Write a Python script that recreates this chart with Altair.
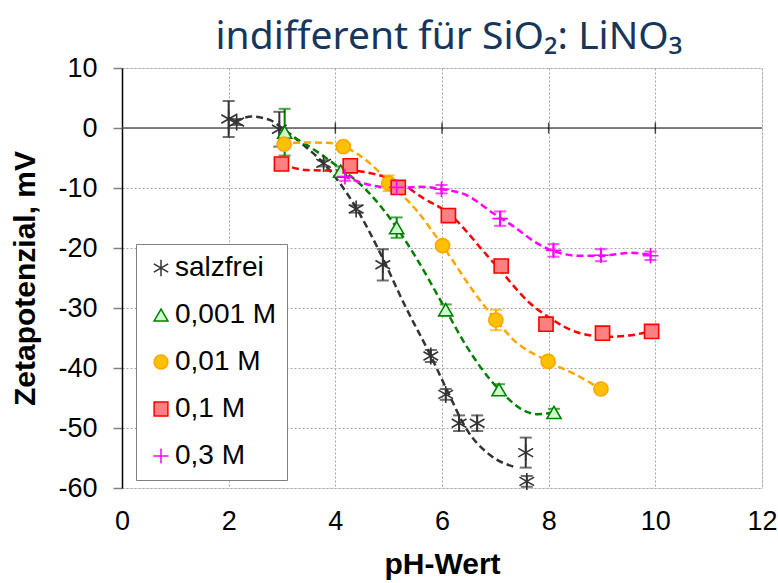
import altair as alt
import pandas as pd

# ---------------- data ----------------
series = ["salzfrei", "0,001 M", "0,01 M", "0,1 M", "0,3 M"]

# measured points: pH, zeta potential (mV), error (mV)
s0_x = [2.0, 2.15, 2.95, 3.78, 4.39, 4.89, 5.79, 6.07, 6.32, 6.66, 7.57, 7.59]
s0_y = [1.5, 1.0, -0.2, -5.9, -13.5, -22.8, -38.0, -44.4, -49.2, -49.2, -54.1, -58.9]
s0_e = [3.0, 0.5, 2.9, 0.5, 0.6, 2.6, 1.0, 0.9, 1.3, 1.3, 2.5, 0.9]

s1_x = [3.05, 4.10, 5.15, 6.07, 7.07, 8.10]
s1_y = [-0.7, -7.2, -16.6, -30.3, -43.6, -47.4]
s1_e = [3.9, 0.8, 1.7, 0.9, 0.9, 0.6]

s2_x = [3.04, 4.15, 5.0, 6.01, 7.01, 7.99, 8.98]
s2_y = [-2.7, -3.1, -9.2, -19.6, -32.0, -38.9, -43.5]
s2_e = [0.6, 0.4, 1.3, 0.6, 1.7, 0.5, 0.5]

s3_x = [2.99, 4.28, 5.18, 6.12, 7.11, 7.95, 9.01, 9.93]
s3_y = [-6.0, -6.3, -9.9, -14.6, -23.0, -32.7, -34.2, -33.9]
s3_e = [0.4, 0.4, 0.4, 0.4, 0.4, 0.4, 0.4, 0.4]

s4_x = [4.18, 5.15, 5.99, 7.09, 8.09, 8.98, 9.91]
s4_y = [-8.1, -9.9, -10.2, -15.1, -20.4, -21.2, -21.3]
s4_e = [0.7, 0.8, 0.7, 1.2, 1.05, 1.0, 0.7]

# dashed trend curves
c0_x = [2.12, 2.43, 2.78, 3.0, 3.4, 3.78, 4.39, 4.85, 5.3, 5.79, 6.1, 6.46, 6.9, 7.4]
c0_y = [1.05, 1.9, 1.3, 0.0, -2.8, -5.9, -13.3, -21.0, -29.5, -38.0, -43.8, -50.2, -54.5, -56.6]

c1_x = [3.05, 3.65, 4.1, 4.52, 5.15, 5.52, 6.07, 6.46, 7.07, 7.59, 7.8, 8.1]
c1_y = [-0.7, -3.9, -6.8, -9.8, -16.6, -21.7, -30.3, -36.4, -43.6, -47.3, -47.7, -47.4]

c2_x = [3.0, 3.5, 3.9, 4.15, 4.65, 5.0, 5.52, 6.01, 6.71, 7.01, 7.34, 7.99, 8.59, 8.98]
c2_y = [-2.6, -2.4, -2.5, -3.1, -5.9, -9.0, -13.7, -19.6, -28.7, -32.0, -35.3, -38.9, -41.5, -43.5]

c3_x = [2.99, 3.46, 3.9, 4.3, 4.7, 5.18, 5.65, 6.12, 6.84, 7.09, 7.65, 7.96, 8.59, 9.09, 9.5, 9.96]
c3_y = [-6.0, -7.0, -7.1, -7.1, -7.6, -9.0, -11.7, -14.2, -21.2, -23.7, -29.2, -31.3, -34.2, -34.8, -34.6, -33.7]

c4_x = [4.15, 4.65, 5.15, 5.59, 6.0, 6.46, 6.96, 7.34, 7.78, 8.09, 8.59, 9.0, 9.53, 9.96]
c4_y = [-8.0, -9.5, -10.0, -9.8, -10.2, -11.2, -14.2, -16.4, -19.2, -20.5, -21.3, -21.3, -20.8, -21.2]

x_ticks = [0, 2, 4, 6, 8, 10, 12]
y_ticks = [-60, -50, -40, -30, -20, -10, 0, 10]
zero_ticks = [2, 4, 6, 8, 10]

title_text = "indifferent für SiO\u2082: LiNO\u2083"

# ---------------- tables ----------------
pts = []
for name, xs, ys, es in zip(series, [s0_x, s1_x, s2_x, s3_x, s4_x],
                            [s0_y, s1_y, s2_y, s3_y, s4_y],
                            [s0_e, s1_e, s2_e, s3_e, s4_e]):
    for a, b, e in zip(xs, ys, es):
        pts.append({"serie": name, "x": a, "y": b, "lo": b - e, "hi": b + e})
pts = pd.DataFrame(pts)

crv = []
for name, xs, ys in zip(series, [c0_x, c1_x, c2_x, c3_x, c4_x],
                        [c0_y, c1_y, c2_y, c3_y, c4_y]):
    for i, (a, b) in enumerate(zip(xs, ys)):
        crv.append({"serie": name, "x": a, "y": b, "i": i})
crv = pd.DataFrame(crv)

zero_df = pd.DataFrame({"y": [0]})
ztick_df = pd.DataFrame({"x": zero_ticks, "y": [0] * len(zero_ticks)})

# ---------------- styling ----------------
LABEL_FONT = "Liberation Sans"
stroke_colors = ["#333333", "#008000", "#FFA500", "#FF0000", "#FF00FF"]
fill_colors = ["transparent", "#CCFFCC", "#FFC000", "#FF8080", "transparent"]
asterisk = "M0,-1.2L0,1.2M-1.04,-0.6L1.04,0.6M-1.04,0.6L1.04,-0.6"
plus = "M-1.1,0L1.1,0M0,-1.1L0,1.1"
shapes = [asterisk, "triangle-up", "circle", "square", plus]

xs_scale = alt.Scale(domain=[0, 12], nice=False, zero=False)
ys_scale = alt.Scale(domain=[-60, 10], nice=False, zero=False)

x_axis = alt.Axis(values=x_ticks, title="pH-Wert", grid=True, gridDash=[2, 2],
                  gridColor="#A6A6A6", gridWidth=1, ticks=False, domain=False,
                  labelFont=LABEL_FONT, labelFontSize=27, labelColor="black",
                  labelPadding=20, labelFlush=False, labelExpr="'' + datum.value",
                  titleFont=LABEL_FONT, titleFontSize=30, titleFontWeight="bold",
                  titleColor="black", titlePadding=15)
y_axis = alt.Axis(values=y_ticks, title="Zetapotenzial, mV", grid=True, gridDash=[2, 2],
                  gridColor="#A6A6A6", gridWidth=1, ticks=True, tickSize=9,
                  tickColor="#808080", tickWidth=1.5, domain=True, domainColor="black",
                  domainWidth=1.5, labelFont=LABEL_FONT, labelFontSize=27,
                  labelColor="black", labelPadding=16, labelFlush=False,
                  labelExpr="'' + datum.value",
                  titleFont=LABEL_FONT, titleFontSize=30, titleFontWeight="bold",
                  titleColor="black", titlePadding=17)

# line/error-bar colours: same mapping, listed in reverse order so that this
# (legend-less) scale stays separate from the marker legend
line_scale = alt.Scale(domain=series[::-1], range=stroke_colors[::-1])
stroke_scale = alt.Scale(domain=series, range=stroke_colors)
fill_scale = alt.Scale(domain=series, range=fill_colors)
shape_scale = alt.Scale(domain=series, range=shapes)

legend = alt.Legend(title=None, orient="none", legendX=14, legendY=176,
                    padding=10, fillColor="white", strokeColor="#808080",
                    labelFont=LABEL_FONT, labelFontSize=28, labelColor="black",
                    rowPadding=19, symbolSize=190, symbolStrokeWidth=1.5,
                    symbolOffset=1, labelOffset=0, labelLimit=300)

X = alt.X("x:Q", scale=xs_scale, axis=x_axis)
Y = alt.Y("y:Q", scale=ys_scale, axis=y_axis)

zero_line = alt.Chart(zero_df).mark_rule(color="#595959", strokeWidth=1.5).encode(y=Y)

zero_ticks_layer = alt.Chart(ztick_df).mark_tick(
    orient="vertical", color="black", size=11, thickness=1.5
).encode(x=X, y=Y)

lines = alt.Chart(crv).mark_line(
    strokeDash=[7, 4], strokeWidth=2.5, interpolate="monotone"
).encode(
    x=X, y=Y, order="i:Q",
    color=alt.Color("serie:N", scale=line_scale, legend=None),
)

err_rule = alt.Chart(pts).mark_rule(strokeWidth=2).encode(
    x=X,
    y=alt.Y("lo:Q", scale=ys_scale, axis=y_axis),
    y2="hi:Q",
    color=alt.Color("serie:N", scale=line_scale, legend=None),
)
cap_lo = alt.Chart(pts).mark_tick(orient="horizontal", size=12, thickness=2).encode(
    x=X,
    y=alt.Y("lo:Q", scale=ys_scale, axis=y_axis),
    color=alt.Color("serie:N", scale=line_scale, legend=None),
)
cap_hi = alt.Chart(pts).mark_tick(orient="horizontal", size=12, thickness=2).encode(
    x=X,
    y=alt.Y("hi:Q", scale=ys_scale, axis=y_axis),
    color=alt.Color("serie:N", scale=line_scale, legend=None),
)

points = alt.Chart(pts).mark_point(filled=False, size=200, strokeWidth=1.6, opacity=1).encode(
    x=X, y=Y,
    stroke=alt.Stroke("serie:N", scale=stroke_scale, legend=legend, sort=series),
    fill=alt.Fill("serie:N", scale=fill_scale, legend=legend, sort=series),
    shape=alt.Shape("serie:N", scale=shape_scale, legend=legend, sort=series),
)

chart = alt.layer(
    zero_line, zero_ticks_layer, lines, err_rule, cap_lo, cap_hi, points
).properties(
    width=640, height=420,
    autosize=alt.AutoSizeParams(type="none"),
    padding={"left": 122, "top": 68, "right": 16, "bottom": 95},
    title=alt.TitleParams(title_text, font="Noto Sans", fontSize=39,
                          fontWeight="normal", color="#17365D",
                          anchor="middle", baseline="alphabetic", offset=5,
                          dx=7, dy=39),
).configure_view(
    stroke="#808080", strokeWidth=1.5
).configure(background="white")

chart.save("out.html", embed_options={"renderer": "svg", "actions": False})
